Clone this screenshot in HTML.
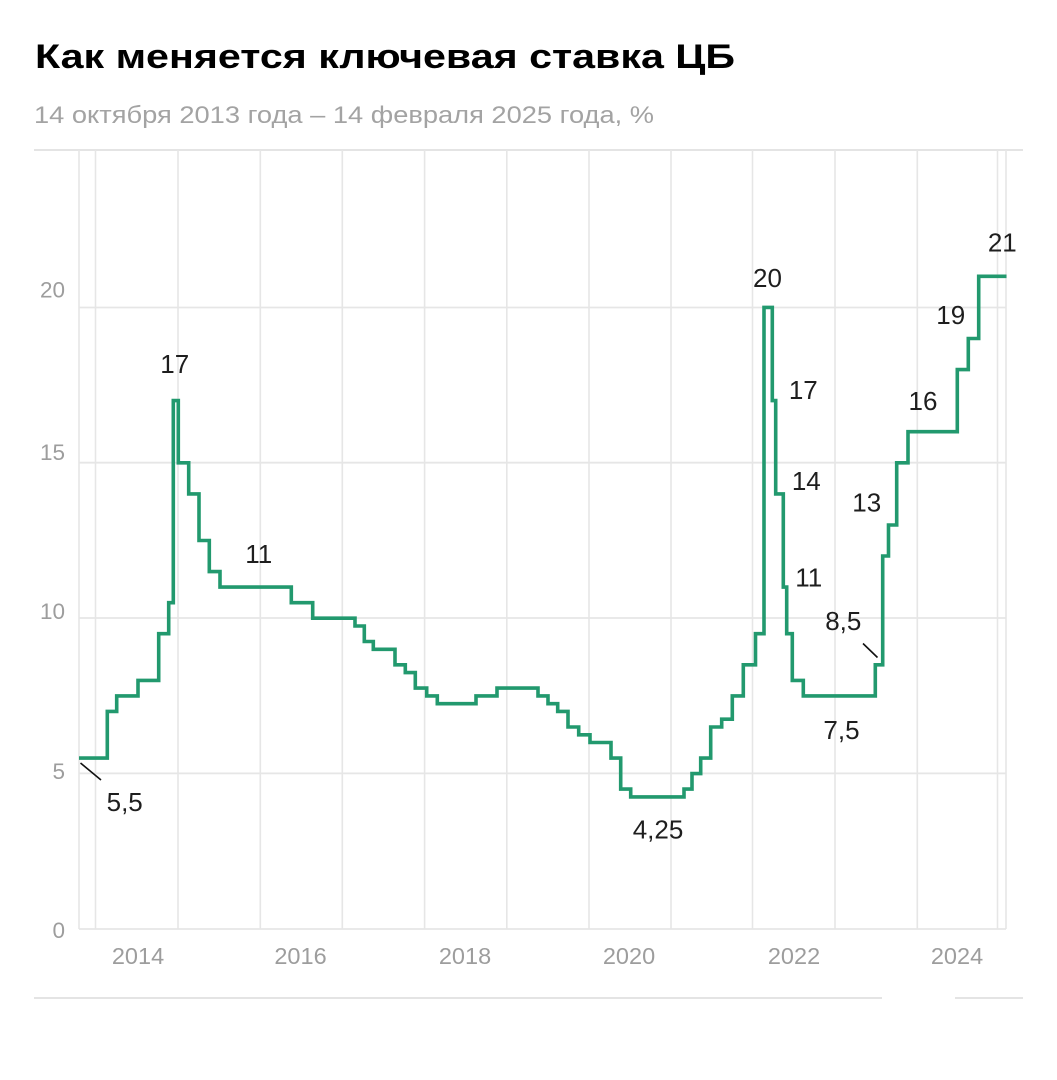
<!DOCTYPE html>
<html>
<head>
<meta charset="utf-8">
<style>
  html, body { margin: 0; padding: 0; background: #ffffff; }
  svg { display: block; }
  text { font-family: "Liberation Sans", "Noto Sans CJK SC", sans-serif; }
</style>
</head>
<body>
<svg width="1057" height="1080" viewBox="0 0 1057 1080" xmlns="http://www.w3.org/2000/svg">
  <rect width="1057" height="1080" fill="#ffffff"/>

  <!-- Title -->
  <text x="35" y="68" font-size="34" font-weight="bold" fill="#000" textLength="700" lengthAdjust="spacingAndGlyphs">Как меняется ключевая ставка ЦБ</text>
  <!-- Subtitle -->
  <text x="34" y="123" font-size="24.5" fill="#a3a3a3" textLength="620" lengthAdjust="spacingAndGlyphs">14 октября 2013 года – 14 февраля 2025 года, %</text>

  <!-- top rule -->
  <line x1="34" y1="150" x2="1023" y2="150" stroke="#e4e4e4" stroke-width="2"/>

  <!-- vertical gridlines -->
  <g stroke="#e6e6e6" stroke-width="1.6">
    <line x1="79" y1="150" x2="79" y2="929"/>
    <line x1="95.5" y1="150" x2="95.5" y2="929"/>
    <line x1="178" y1="150" x2="178" y2="929"/>
    <line x1="260.3" y1="150" x2="260.3" y2="929"/>
    <line x1="342.3" y1="150" x2="342.3" y2="929"/>
    <line x1="424.6" y1="150" x2="424.6" y2="929"/>
    <line x1="506.8" y1="150" x2="506.8" y2="929"/>
    <line x1="589" y1="150" x2="589" y2="929"/>
    <line x1="671" y1="150" x2="671" y2="929"/>
    <line x1="752.5" y1="150" x2="752.5" y2="929"/>
    <line x1="835" y1="150" x2="835" y2="929"/>
    <line x1="917.3" y1="150" x2="917.3" y2="929"/>
    <line x1="997.5" y1="150" x2="997.5" y2="929"/>
    <line x1="1006" y1="150" x2="1006" y2="929"/>
  </g>

  <!-- horizontal gridlines -->
  <g stroke="#e6e6e6" stroke-width="1.8">
    <line x1="79" y1="307.5" x2="1006" y2="307.5"/>
    <line x1="79" y1="462.7" x2="1006" y2="462.7"/>
    <line x1="79" y1="618" x2="1006" y2="618"/>
    <line x1="79" y1="773.4" x2="1006" y2="773.4"/>
    <line x1="79" y1="929" x2="1006" y2="929"/>
  </g>

  <!-- bottom separator -->
  <line x1="34" y1="998" x2="882" y2="998" stroke="#e4e4e4" stroke-width="2"/>
  <line x1="955" y1="998" x2="1023" y2="998" stroke="#e4e4e4" stroke-width="2"/>

  <!-- y axis labels -->
  <g font-size="22.5" fill="#9d9d9d" text-anchor="end">
    <text x="65" y="297.5">20</text>
    <text x="65" y="460">15</text>
    <text x="65" y="619">10</text>
    <text x="65" y="779">5</text>
    <text x="65" y="938">0</text>
  </g>

  <!-- x axis labels -->
  <g font-size="23.5" fill="#9d9d9d" text-anchor="middle">
    <text x="138" y="964">2014</text>
    <text x="300.5" y="964">2016</text>
    <text x="465" y="964">2018</text>
    <text x="629" y="964">2020</text>
    <text x="794" y="964">2022</text>
    <text x="957" y="964">2024</text>
  </g>

  <!-- series -->
  <path fill="none" stroke="#22996e" stroke-width="3.6" stroke-linejoin="miter" stroke-linecap="butt"
    d="M79,758.1 H107.3 V711.4 H116.7 V695.9 H138 V680.4 H158.7 V633.7 H168.7 V602.7 H173.3 V400.6
       H178.3 V462.8 H188.7 V493.9 H199 V540.5 H209.3 V571.6 H220 V587.1 H291.3 V602.7 H312.7 V618.2
       H355 V626 H364.3 V641.5 H373.3 V649.3 H395 V664.8 H405.3 V672.6 H415.3 V688.1 H426.7 V695.9
       H437.3 V703.7 H476 V695.9 H497 V688.1 H538 V695.9 H548 V703.7 H557.7 V711.4 H568 V727 H578.7 V734.8
       H590 V742.5 H611 V758.1 H620.7 V789.1 H630.7 V796.9 H684 V789.1 H692 V773.6 H700.7 V758.1
       H710.7 V727 H721.7 V719.2 H732.3 V695.9 H743.3 V664.8 H755.5 V633.7 H764 V307.4 H772.3 V400.6
       H775.7 V493.9 H783.3 V587.1 H786.7 V633.7 H792.3 V680.4 H803.3 V695.9 H875.3 V664.8
       H882.7 V556 H888.5 V525 H896.7 V462.8 H908 V431.7 H957.3 V369.6 H968.3 V338.5 H978.7 V276.3 H1006.5"/>

  <!-- leader lines -->
  <line x1="80.5" y1="763" x2="101" y2="780" stroke="#111" stroke-width="1.6"/>
  <line x1="863" y1="643.5" x2="877.5" y2="657.5" stroke="#111" stroke-width="1.6"/>

  <!-- value labels -->
  <g font-size="26" fill="#1e1e1e" text-anchor="middle">
    <text x="174.7" y="373">17</text>
    <text x="258.7" y="563">11</text>
    <text x="124.7" y="811">5,5</text>
    <text x="658" y="838.5">4,25</text>
    <text x="841.5" y="739">7,5</text>
    <text x="767.5" y="287">20</text>
    <text x="803.3" y="399">17</text>
    <text x="806.3" y="490">14</text>
    <text x="808.7" y="586.5">11</text>
    <text x="843.3" y="630">8,5</text>
    <text x="866.7" y="511.5">13</text>
    <text x="923" y="410">16</text>
    <text x="950.7" y="324">19</text>
    <text x="1002.3" y="251.5">21</text>
  </g>
</svg>
</body>
</html>
